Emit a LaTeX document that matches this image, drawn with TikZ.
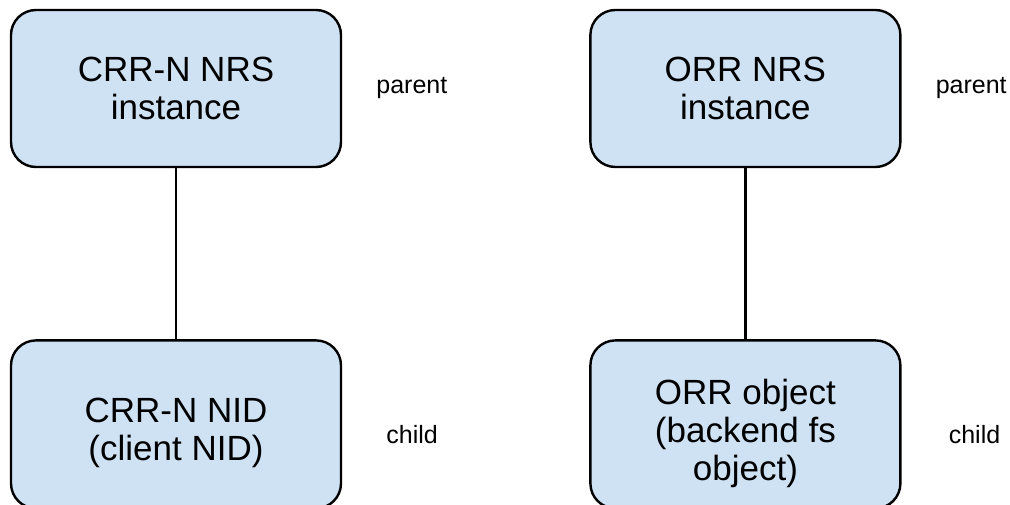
\documentclass[tikz,border=0pt]{standalone}
\usepackage{fontspec}
\setmainfont{Liberation Sans}
\usetikzlibrary{positioning}
\definecolor{boxblue}{HTML}{CFE2F3}
\tikzset{node distance=171pt, % gap between parent and child boxes
every nrsbox/.style={ % the rounded blue boxes
draw, line width=2.4pt,
fill=boxblue,
rounded corners=25pt,
minimum width=330pt},
boxtext/.style={ % text inside the boxes
align=center, inner sep=0pt,
font=\fontsize{35}{38}\selectfont},
rolelabel/.style={ % parent / child notes
inner sep=0pt,
font=\fontsize{25}{28}\selectfont},
link/.style={line width=2.4pt}}

\begin{document}
\begin{tikzpicture}[x=1pt,y=-1pt]
    \useasboundingbox (0,0) rectangle (1010,505);
    \clip (0,0) rectangle (1010,505);

    \node[every nrsbox, minimum height=157pt] (crrnrs) at (176,88.5) {};
    \node[every nrsbox, minimum height=168pt, below=of crrnrs] (crrnid) {};
    \node[every nrsbox, minimum width=310pt, minimum height=157pt, right=247pt of crrnrs] (orrnrs) {};
    \node[every nrsbox, minimum width=310pt, minimum height=168pt, below=of orrnrs] (orrobj) {};

    \node[boxtext] (crrnrstext) at (crrnrs.center) {CRR-N NRS\\instance};
    \node[boxtext] (crrnidtext) at ([yshift=-9pt]crrnid.center) {CRR-N NID\\(client NID)};
    \node[boxtext] (orrnrstext) at (orrnrs.center) {ORR NRS\\instance};
    \node[boxtext] (orrobjtext) at ([yshift=-9pt]orrobj.center) {ORR object\\(backend fs\\object)};

    \node[rolelabel, right=34pt of crrnrs] (crrparent) {parent};
    \node[rolelabel, right=44pt of crrnid, yshift=-10pt] (crrchild) {child};
    \node[rolelabel, right=34pt of orrnrs] (orrparent) {parent};
    \node[rolelabel, right=47pt of orrobj, yshift=-10pt] (orrchild) {child};

    \draw[link] (crrnrs) -- (crrnid);
    \draw[link] (orrnrs) -- (orrobj);

\end{tikzpicture}
\end{document}
